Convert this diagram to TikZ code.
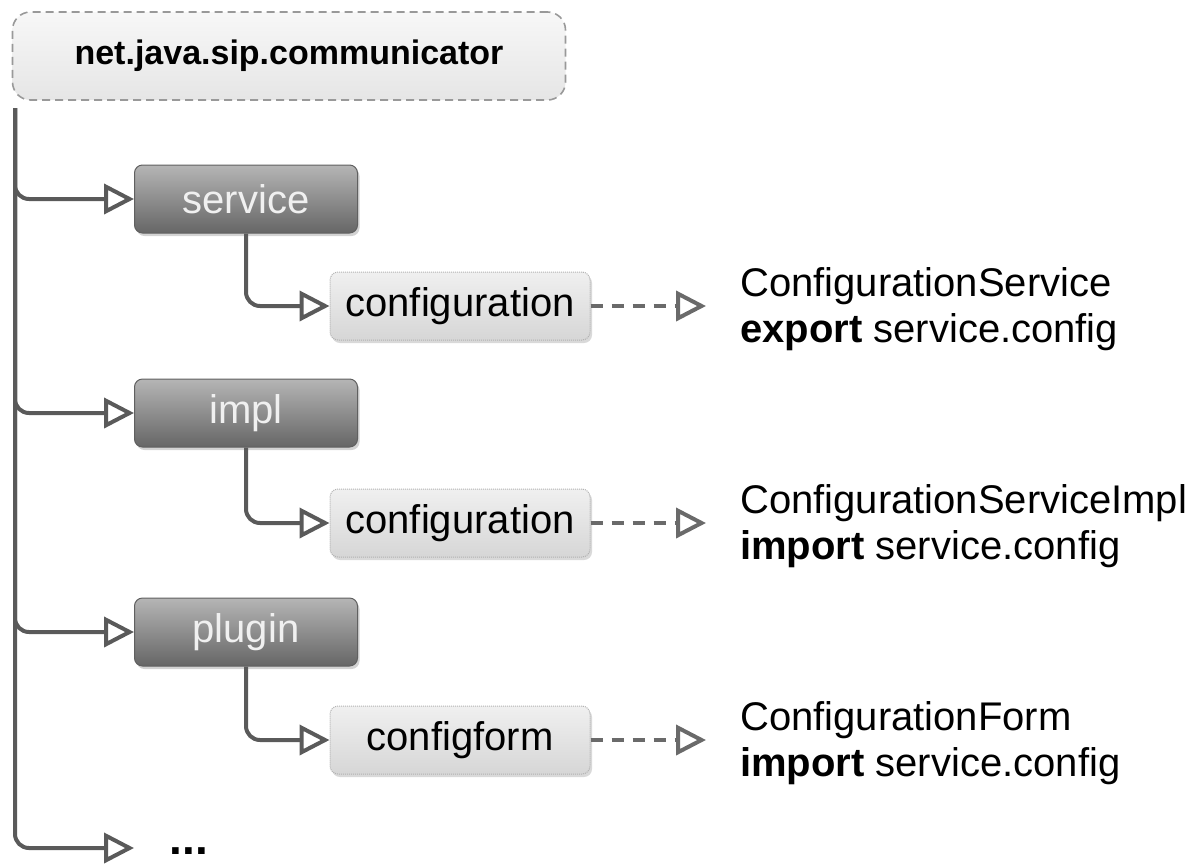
\documentclass[tikz,border=0pt]{standalone}
\usepackage{fontspec}
\setmainfont{Liberation Sans}
\usetikzlibrary{arrows.meta,shadows}
\definecolor{linegray}{HTML}{5A5A5A}
\definecolor{tipgray}{HTML}{6A6A6A}
\tikzset{
  rootbox/.style={draw=gray!80, dashed, dash pattern=on 8pt off 5pt, line width=1.6pt, rounded corners=18pt,
    top color=gray!6, bottom color=gray!20, minimum width=553pt, minimum height=88pt,
    font=\fontsize{34}{40}\selectfont\bfseries, text=black},
  darkbox/.style={draw=gray!75!black, line width=1pt, rounded corners=8pt, top color=gray!58, bottom color=gray!80!black,
    minimum width=223pt, minimum height=68pt, text=white!94!black, font=\fontsize{40}{46}\selectfont,
    drop shadow={shadow xshift=2pt, shadow yshift=-3pt, opacity=0.35}},
  lightbox/.style={draw=gray!60, line width=1pt, dash pattern=on 1pt off 1pt, rounded corners=8pt, top color=gray!12, bottom color=gray!32,
    minimum width=260pt, minimum height=68pt, text=black, font=\fontsize{40}{46}\selectfont,
    drop shadow={shadow xshift=2pt, shadow yshift=-3pt, opacity=0.3}},
  desc/.style={anchor=west, align=left, inner sep=0pt, font=\fontsize{40}{46}\selectfont, text=black},
  opentip/.style={-{Triangle[open, length=30pt, width=30pt, line width=4pt]}},
  tree/.style={draw=linegray, line width=4pt, rounded corners=14pt, opentip},
  dep/.style={draw=tipgray, line width=3.5pt, dash pattern=on 12pt off 9pt, opentip},
}
\begin{document}
\begin{tikzpicture}[x=1pt,y=-1pt]
\useasboundingbox (0,0) rectangle (1201,865);
\node[rootbox] (root) at (289,56) {net.java.sip.communicator};
\coordinate (trunk) at (15,108);
\node[darkbox] (service) at (246,199) {service};
\node[lightbox] (conf1) at (460,306) {configuration};
\node[darkbox] (impl) at (246,413) {impl};
\node[lightbox] (conf2) at (460,523) {configuration};
\node[darkbox] (plugin) at (246,632) {plugin};
\node[lightbox] (cform) at (460,740) {configform};
\node[inner sep=0pt, font=\fontsize{46}{46}\selectfont\bfseries] (dots) at (189,851) {...};
\node[desc] (d1) at (740,309) {ConfigurationService\\\textbf{export} service.config};
\node[desc] (d2) at (740,526) {ConfigurationServiceImpl\\\textbf{import} service.config};
\node[desc] (d3) at (740,743) {ConfigurationForm\\\textbf{import} service.config};
\coordinate (dotsin) at (134,848);
\draw[tree] (trunk) |- (service.west);
\draw[tree] (trunk) |- (impl.west);
\draw[tree] (trunk) |- (plugin.west);
\draw[tree] (trunk) |- (dotsin);
\draw[tree] (service.south) |- (conf1.west);
\draw[tree] (impl.south) |- (conf2.west);
\draw[tree] (plugin.south) |- (cform.west);
\draw[dep, shorten >=34pt] (conf1.east) -- (conf1.east -| d1.west);
\draw[dep, shorten >=34pt] (conf2.east) -- (conf2.east -| d2.west);
\draw[dep, shorten >=34pt] (cform.east) -- (cform.east -| d3.west);
\end{tikzpicture}
\end{document}
